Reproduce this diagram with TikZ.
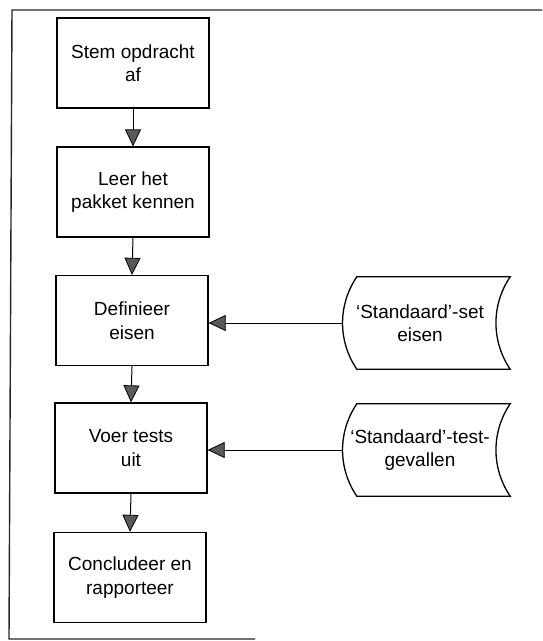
\documentclass[tikz,border=0pt]{standalone}
\usepackage{fontspec}
\setmainfont{Liberation Sans}
\usetikzlibrary{arrows.meta,calc}

\tikzset{
  stepbox/.style={draw=black, line width=1.3pt, minimum width=152pt, minimum height=90pt,
    align=center, inner sep=0pt, font=\fontsize{19}{23.5}\selectfont},
  storetext/.style={minimum width=153pt, minimum height=92pt, align=center, inner sep=0pt,
    font=\fontsize{19}{23.5}\selectfont},
  storeline/.style={draw=black, line width=1.3pt},
  flow/.style={draw=black, line width=1pt,
    -{Triangle[length=17pt,width=16pt,fill=black!65,line width=0.8pt]}},
  frameline/.style={draw=black!85, line width=1.4pt}
}

\begin{document}
\begin{tikzpicture}[x=1pt,y=-1pt]
  \useasboundingbox (0,0) rectangle (542,641);

  % partial page frame
  \coordinate (ftr) at (542,10);
  \coordinate (ftl) at (12,10);
  \coordinate (fbl) at (9,639);
  \coordinate (fbr) at (255,639);
  \draw[frameline] (ftr) -- (ftl) -- (fbl) -- (fbr);

  % process steps
  \node[stepbox] (b1) at (133,63)  {Stem opdracht\\af};
  \node[stepbox] (b2) at (133,192) {Leer het\\pakket kennen};
  \node[stepbox] (b3) at (132,320.5) {Definieer\\eisen};
  \node[stepbox] (b4) at (131,448) {Voer tests\\uit};
  \node[stepbox] (b5) at (130,577.5) {Concludeer en\\rapporteer};

  % stored inputs (text sits between the two curved sides)
  \node[storetext] (s1) at (420,323) {‘Standaard’-set\\eisen};
  \node[storetext] (s2) at (420,450) {‘Standaard’-test-\\gevallen};

  \foreach \s in {s1,s2}{
    \coordinate (\s nw) at ($(\s.north west)+(13.5,0)$);
    \coordinate (\s sw) at ($(\s.south west)+(13.5,0)$);
    \coordinate (\s ne) at ($(\s.north east)+(13.5,0)$);
    \coordinate (\s se) at ($(\s.south east)+(13.5,0)$);
    \draw[storeline] (\s nw)
      .. controls ($(\s nw)+(-19,28)$) and ($(\s sw)+(-19,-28)$) .. (\s sw)
      -- (\s se)
      .. controls ($(\s se)+(-19,-28)$) and ($(\s ne)+(-19,28)$) .. (\s ne)
      -- cycle;
    \coordinate (\s in) at ($(\s.west)+(-0.5,0)$);
  }

  % flow between steps
  \draw[flow] (b1.south) -- (b2.north);
  \draw[flow] (b2.south) -- (b3.north);
  \draw[flow] (b3.south) -- (b4.north);
  \draw[flow] (b4.south) -- (b5.north);

  % inputs into steps
  \draw[flow] (s1in) -- (s1in -| b3.east);
  \draw[flow] (s2in) -- (s2in -| b4.east);
\end{tikzpicture}
\end{document}
